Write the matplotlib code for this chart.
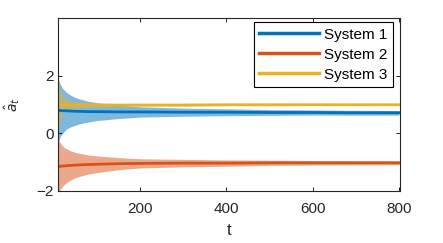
import numpy as np
import matplotlib.pyplot as plt

plt.rcParams['font.family'] = ['Liberation Sans', 'DejaVu Sans']

# values
t = [10, 12, 15, 20, 25, 30, 40, 50, 60, 80, 100, 150, 200, 300, 400, 500, 600, 700, 800]

mean_1 = [0.80, 0.80, 0.80, 0.79, 0.79, 0.79, 0.78, 0.77, 0.77, 0.76, 0.76, 0.75, 0.75, 0.74, 0.74, 0.73, 0.73, 0.72, 0.72]
half_1 = [1.08, 1.00, 0.90, 0.78, 0.70, 0.63, 0.54, 0.48, 0.43, 0.36, 0.31, 0.23, 0.18, 0.14, 0.12, 0.10, 0.09, 0.085, 0.08]

mean_2 = [-1.15, -1.15, -1.14, -1.13, -1.13, -1.12, -1.11, -1.10, -1.09, -1.08, -1.07, -1.05, -1.04, -1.03, -1.03, -1.02, -1.02, -1.02, -1.02]
half_2 = [0.95, 0.88, 0.80, 0.70, 0.63, 0.58, 0.50, 0.44, 0.40, 0.33, 0.29, 0.21, 0.16, 0.13, 0.11, 0.09, 0.08, 0.075, 0.07]

mean_3 = [1.00, 1.00, 1.00, 1.00, 1.00, 1.00, 0.99, 0.99, 0.99, 0.99, 0.99, 0.99, 0.99, 0.99, 1.00, 1.00, 1.00, 1.00, 1.00]
half_3 = [0.90, 0.70, 0.50, 0.33, 0.24, 0.19, 0.14, 0.11, 0.09, 0.07, 0.06, 0.05, 0.045, 0.04, 0.035, 0.035, 0.03, 0.03, 0.03]

labels = ["System 1", "System 2", "System 3"]
colors = ["#0072BD", "#D95319", "#EDB120"]

fig = plt.figure(figsize=(4.43, 2.43), dpi=100)
ax = fig.add_axes([0.1316, 0.214, 0.771, 0.710])

t = np.array(t)
means = [np.array(mean_1), np.array(mean_2), np.array(mean_3)]
halves = [np.array(half_1), np.array(half_2), np.array(half_3)]

for m, h, c in zip(means, halves, colors):
    ax.fill_between(t, m - h, m + h, color=c, alpha=0.5, linewidth=0)

for m, c, lab in zip(means, colors, labels):
    ax.plot(t, m, color=c, linewidth=2.0, label=lab)

ax.set_xlim(10, 802)
ax.set_ylim(-2, 4)
ax.set_xticks([200, 400, 600, 800])
ax.set_yticks([-2, 0, 2])
ax.tick_params(direction='in', top=True, right=True, labelsize=11, length=3, width=0.7, colors='#262626')
ax.tick_params(axis='x', pad=8)
for s in ax.spines.values():
    s.set_linewidth(0.8)
    s.set_color('#262626')

ax.set_xlabel("t", fontsize=12, color='#262626', labelpad=5)
ax.set_ylabel(r"$\hat{a}_t$", fontsize=10, color='#262626', labelpad=10)

leg = ax.legend(loc='upper right', bbox_to_anchor=(0.980, 0.978), borderaxespad=0,
                fontsize=11, handlelength=3.9, handletextpad=0.35, labelspacing=0.4,
                borderpad=0.35, fancybox=False, framealpha=1)
leg.get_frame().set_edgecolor('black')
leg.get_frame().set_linewidth(0.8)
for line in leg.get_lines():
    line.set_linewidth(2.5)

fig.savefig("out.png", dpi=100)
